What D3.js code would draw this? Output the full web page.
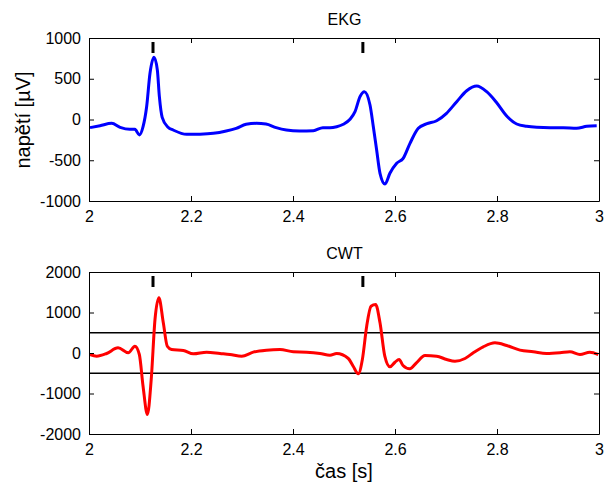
<html>
<head>
<meta charset="utf-8">
<style>
body{
  margin:0;
  padding:0;
  background-color: white;
  font-family: 'Liberation Sans', Arial, sans-serif;
}
.tick text{ font-size:16px; fill:black; }
</style>
</head>
<body>
<div id="chart"></div>
<script src="https://cdn.jsdelivr.net/npm/d3@7"></script>
<script>
//======== DATA =========
// EKG signal [s, µV]
const ekgTime = [2.002,2.0216,2.0445,2.061,2.080,2.090,2.0987,2.106,2.113,2.1196,2.1275,2.134,2.138,2.1435,2.155,2.165,2.1915,2.2176,2.2437,2.269,2.2886,2.308,2.328,2.347,2.367,2.387,2.4127,2.4398,2.4586,2.4725,2.4856,2.4987,2.5118,2.5216,2.5314,2.540,2.551,2.5575,2.564,2.5706,2.5804,2.590,2.6033,2.616,2.6294,2.6457,2.6614,2.6817,2.701,2.721,2.7406,2.7602,2.7798,2.7994,2.819,2.8386,2.858,2.878,2.904,2.930,2.956,2.976,2.9955];
const ekgValue = [-100,-76,-47,-96,-121,-121,-190,-88,157,567,763,607,280,27,-96,-129,-182,-180,-170,-141,-108,-59,-47,-55,-100,-129,-141,-137,-100,-100,-88,-59,2,96,280,341,178,-88,-374,-660,-791,-660,-537,-476,-292,-108,-55,-15,76,219,353,411,341,206,43,-55,-84,-96,-100,-100,-108,-84,-76];

// CWT coefficients
const cwtTime = [2.002,2.015,2.0346,2.057,2.077,2.090,2.0987,2.106,2.1145,2.122,2.1294,2.137,2.1457,2.1535,2.162,2.185,2.2046,2.2306,2.2569,2.2765,2.2994,2.322,2.348,2.3745,2.4006,2.4268,2.453,2.4725,2.4856,2.5085,2.518,2.528,2.536,2.5445,2.553,2.562,2.5706,2.580,2.590,2.600,2.608,2.6157,2.629,2.642,2.6588,2.6817,2.7013,2.7176,2.7373,2.7535,2.773,2.796,2.819,2.845,2.8712,2.897,2.9235,2.943,2.9627,2.982,2.9986];
const cwtValue = [-37,-79,-12,128,5,168,-37,-820,-1518,-654,827,1362,745,168,86,62,-21,21,-12,-37,-79,21,70,86,30,21,-12,-58,-12,-136,-326,-514,-160,662,1156,1198,745,-79,-341,-227,-160,-309,-391,-242,-62,-79,-160,-202,-136,5,152,251,185,70,30,-12,5,30,-37,21,-37];

// detected R peaks [s]
const peakTime = [2.1255, 2.537];
// CWT threshold
const thresholds = [500, -500];

const xTicks = [2, 2.2, 2.4, 2.6, 2.8, 3];
const ekgTicks = [-1000, -500, 0, 500, 1000];
const cwtTicks = [-2000, -1000, 0, 1000, 2000];

//========== SVG VIEW =============
var width = 605, height = 483;
var svg = d3.select("#chart").append("svg")
    .attr("width", width).attr("height", height);

var x = d3.scaleLinear().domain([2, 3]).range([89, 599]);
var plain = d => String(d);   // MATLAB style labels, hyphen minus, no thousands comma

const panel = (top, bottom, yDomain, yTicks, title, tVals, vVals, color, lines) => {
  var y = d3.scaleLinear().domain(yDomain).range([bottom, top]);
  var g = svg.append("g");

  // threshold lines
  lines.forEach(l => {
    g.append("line")
      .attr("x1", x.range()[0]).attr("x2", x.range()[1])
      .attr("y1", y(l)).attr("y2", y(l))
      .attr("stroke", "black").attr("stroke-width", 1.3);
  });

  // signal
  var pts = tVals.map((t, i) => [t, vVals[i]]);
  g.append("path")
    .datum(pts)
    .attr("fill", "none")
    .attr("stroke", color)
    .attr("stroke-width", 3)
    .attr("stroke-linejoin", "round")
    .attr("d", d3.line().x(d => x(d[0])).y(d => y(d[1])).curve(d3.curveMonotoneX));

  // peak markers
  g.selectAll(".peak").data(peakTime).enter().append("line")
    .attr("x1", d => x(d)).attr("x2", d => x(d))
    .attr("y1", top + 4).attr("y2", top + 15)
    .attr("stroke", "black").attr("stroke-width", 3);

  // axes (ticks inward, MATLAB box)
  g.append("g").attr("transform", `translate(0,${bottom})`)
    .call(d3.axisBottom(x).tickValues(xTicks).tickSizeInner(-5).tickSizeOuter(0).tickPadding(10).tickFormat(plain));
  g.append("g").attr("transform", `translate(0,${top})`)
    .call(d3.axisTop(x).tickValues(xTicks).tickSizeInner(-5).tickSizeOuter(0).tickFormat(""));
  g.append("g").attr("transform", `translate(${x.range()[0]},0)`)
    .call(d3.axisLeft(y).tickValues(yTicks).tickSizeInner(-5).tickSizeOuter(0).tickPadding(8).tickFormat(plain));
  g.append("g").attr("transform", `translate(${x.range()[1]},0)`)
    .call(d3.axisRight(y).tickValues(yTicks).tickSizeInner(-5).tickSizeOuter(0).tickFormat(""));

  g.selectAll(".domain").attr("stroke", "black").attr("stroke-width", 1);
  g.selectAll(".tick line").attr("stroke", "black");

  g.append("text")
    .attr("x", (x.range()[0] + x.range()[1]) / 2 + 0.5)
    .attr("y", top - 13)
    .attr("text-anchor", "middle")
    .style("font-size", "16px")
    .text(title);

  return y;
};

var yEkg = panel(38, 201, [-1000, 1000], ekgTicks, "EKG", ekgTime, ekgValue, "#0000ff", []);
var yCwt = panel(272, 434, [-2000, 2000], cwtTicks, "CWT", cwtTime, cwtValue, "#ff0000", thresholds);

svg.selectAll(".tick text").attr("fill", "black").style("font-family", "'Liberation Sans', Arial, sans-serif");

// axis labels
svg.append("text")
  .attr("transform", "translate(30,120) rotate(-90)")
  .attr("text-anchor", "middle")
  .style("font-size", "20px")
  .text("napětí [µV]");

svg.append("text")
  .attr("x", 344).attr("y", 478)
  .attr("text-anchor", "middle")
  .style("font-size", "20px")
  .text("čas [s]");
</script>
</body>
</html>
